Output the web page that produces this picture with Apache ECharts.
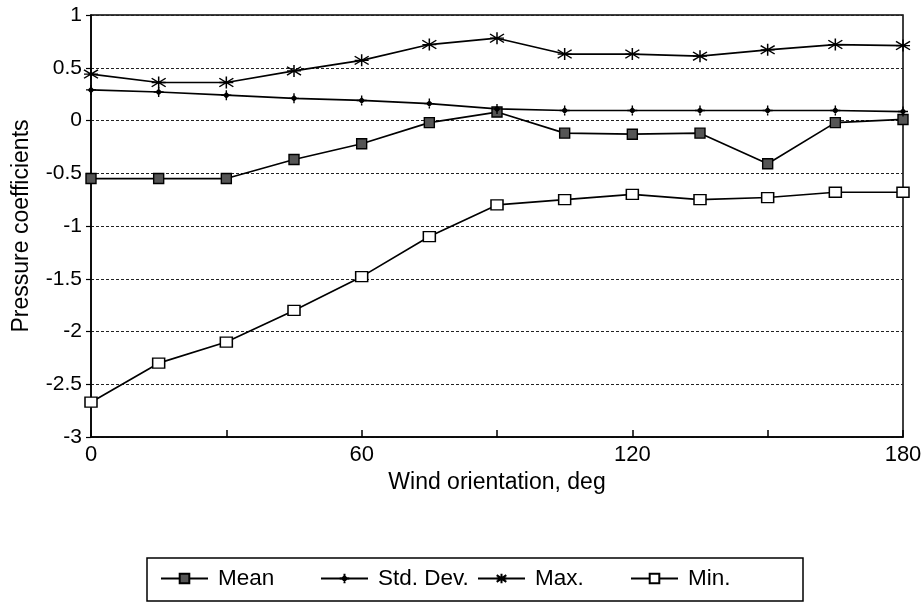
<!DOCTYPE html>
<html>
<head>
<meta charset="utf-8">
<script src="https://cdn.jsdelivr.net/npm/echarts@6/dist/echarts.min.js"></script>
<style>
  html, body { margin: 0; padding: 0; background: #fff; }
  #chart { width: 923px; height: 603px; }
</style>
</head>
<body>
<div id="chart"></div>
<script>
// wind orientation, deg
var angles = [0, 15, 30, 45, 60, 75, 90, 105, 120, 135, 150, 165, 180];
// pressure coefficients
var meanVals = [-0.55, -0.55, -0.55, -0.37, -0.22, -0.02, 0.08, -0.12, -0.13, -0.12, -0.41, -0.02, 0.01];
var stdVals  = [0.29, 0.27, 0.24, 0.21, 0.19, 0.16, 0.11, 0.095, 0.095, 0.095, 0.095, 0.095, 0.085];
var maxVals  = [0.44, 0.36, 0.36, 0.47, 0.57, 0.72, 0.78, 0.63, 0.63, 0.61, 0.67, 0.72, 0.71];
var minVals  = [-2.67, -2.3, -2.1, -1.8, -1.48, -1.1, -0.8, -0.75, -0.7, -0.75, -0.73, -0.68, -0.68];
var xLabels = [0, 60, 120, 180];

function pairs(vals) {
  var out = [];
  for (var i = 0; i < angles.length; i++) {
    out.push([angles[i], vals[i]]);
  }
  return out;
}

var font = '"Liberation Sans", Arial, sans-serif';
var plusPath = 'path://M5,0 L5,10 M0,5 L10,5 M5,2.5 L7.5,5 L5,7.5 L2.5,5 Z';
var starPath = 'path://M5,0 L5,10 M0,1.5 L10,8.5 M10,1.5 L0,8.5 M0,5 L10,5';

function mkSeries(name, vals, symbol, size, fill) {
  return {
    name: name,
    type: 'line',
    data: pairs(vals),
    symbol: symbol,
    symbolSize: size,
    showSymbol: true,
    lineStyle: { color: '#000', width: 1.7 },
    itemStyle: { color: fill, borderColor: '#000', borderWidth: 1.4 },
    emphasis: { disabled: true },
    z: 3
  };
}

var myChart = echarts.init(document.getElementById('chart'));
var legendBase = {
  top: 567,
  padding: 0,
  itemWidth: 47,
  itemHeight: 12,
  itemGap: 0,
  textStyle: { fontFamily: font, fontSize: 22.5, color: '#000', padding: [0, 0, 0, 5] },
  selectedMode: false
};
option = {
  backgroundColor: '#fff',
  animation: false,
  grid: {
    left: 91, right: 20, top: 15, bottom: 166,
    outerBoundsMode: 'none',
    containLabel: false,
    show: true, borderColor: '#000', borderWidth: 1.5, backgroundColor: 'transparent'
  },
  xAxis: {
    type: 'value',
    min: 0, max: 180, interval: 30,
    name: 'Wind orientation, deg',
    nameLocation: 'middle',
    nameGap: 34,
    nameTextStyle: { fontFamily: font, fontSize: 23, color: '#000' },
    axisLine: { onZero: false, lineStyle: { color: '#000', width: 1.5 } },
    axisTick: { inside: true, length: 7, lineStyle: { color: '#000', width: 1.5 } },
    axisLabel: {
      margin: 7, fontFamily: font, fontSize: 22, color: '#000',
      formatter: function (v) { return xLabels.indexOf(v) >= 0 ? String(v) : ''; }
    },
    splitLine: { show: false }
  },
  yAxis: {
    type: 'value',
    min: -3, max: 1, interval: 0.5,
    name: 'Pressure coefficients',
    nameLocation: 'middle',
    nameGap: 58,
    nameTextStyle: { fontFamily: font, fontSize: 23, color: '#000' },
    axisLine: { show: true, onZero: false, lineStyle: { color: '#000', width: 1.5 } },
    axisTick: { show: true, length: 5, lineStyle: { color: '#000', width: 1.2 } },
    axisLabel: { margin: 9, fontFamily: font, fontSize: 21, color: '#000' },
    splitLine: { show: true, lineStyle: { color: '#222', width: 1.2, type: [3, 2] } }
  },
  legend: [
    Object.assign({}, legendBase, { left: 160, data: ['Mean'] }),
    Object.assign({}, legendBase, { left: 320, data: ['Std. Dev.'] }),
    Object.assign({}, legendBase, { left: 477, data: ['Max.'] }),
    Object.assign({}, legendBase, { left: 630, data: ['Min.'] })
  ],
  graphic: [{
    type: 'rect',
    shape: { x: 147, y: 558, width: 656, height: 43 },
    style: { fill: 'none', stroke: '#000', lineWidth: 1.5 },
    silent: true
  }],
  series: [
    mkSeries('Mean', meanVals, 'rect', 10, '#555'),
    mkSeries('Std. Dev.', stdVals, plusPath, 10, '#000'),
    mkSeries('Max.', maxVals, starPath, [14, 12], '#000'),
    mkSeries('Min.', minVals, 'rect', [12, 10], '#fff')
  ]
};
myChart.setOption(option);
</script>
</body>
</html>
